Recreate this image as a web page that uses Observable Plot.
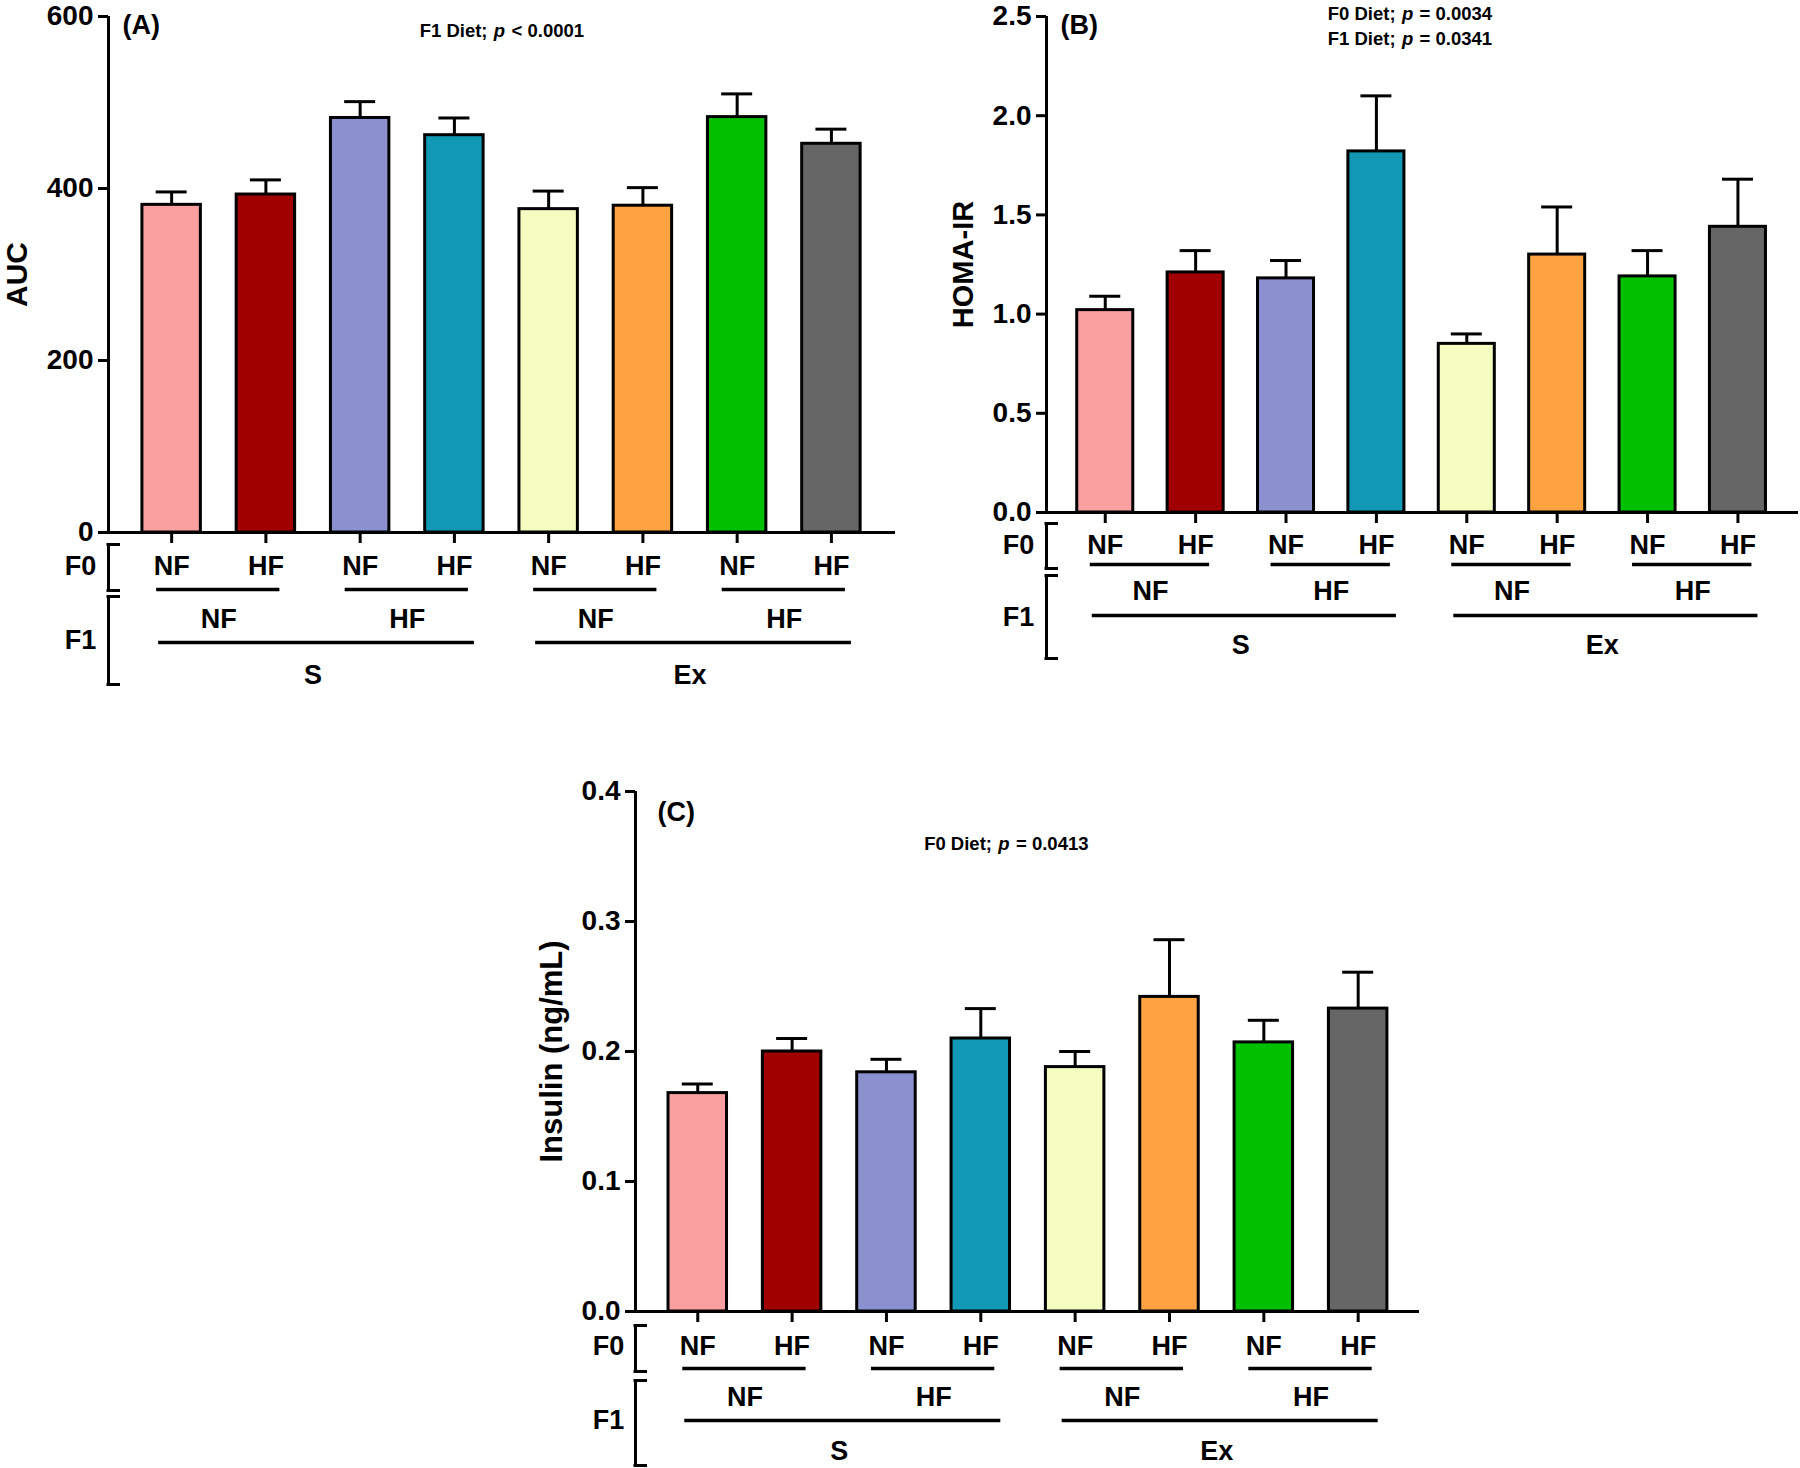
<!DOCTYPE html>
<html>
<head>
<meta charset="utf-8">
<script src="https://cdn.jsdelivr.net/npm/d3@7"></script>
<script src="https://cdn.jsdelivr.net/npm/@observablehq/plot@0.6"></script>
<style>
  html, body { margin: 0; padding: 0; background: #ffffff; }
  #fig { position: relative; width: 1800px; height: 1468px; background: #ffffff; overflow: hidden; }
  #fig > svg { position: absolute; background: transparent; }
  g[aria-label="annotation"] text { letter-spacing: 1.1px; }
</style>
</head>
<body>
<div id="fig"></div>
<script>
// ---------- data ----------
const f0Diet   = ["NF", "HF", "NF", "HF", "NF", "HF", "NF", "HF"];
const f1Diet   = ["NF", "NF", "HF", "HF", "NF", "NF", "HF", "HF"];
const activity = ["S", "S", "S", "S", "Ex", "Ex", "Ex", "Ex"];
const barColors = ["#fba0a0", "#a00000", "#8b91cf", "#1198b4", "#f4fcc0", "#fea242", "#00c000", "#666666"];

const aucMean = [381, 393, 482, 462, 376, 380, 483, 452];
const aucSem  = [15, 17, 19, 20, 21, 21, 27, 17];
const aucTicks = [0, 200, 400, 600];

const homaMean = [1.02, 1.21, 1.18, 1.82, 0.85, 1.30, 1.19, 1.44];
const homaSem  = [0.07, 0.11, 0.09, 0.28, 0.05, 0.24, 0.13, 0.24];
const homaTicks = [0, 0.5, 1.0, 1.5, 2.0, 2.5];

const insulinMean = [0.168, 0.200, 0.184, 0.210, 0.188, 0.242, 0.207, 0.233];
const insulinSem  = [0.007, 0.010, 0.010, 0.023, 0.012, 0.044, 0.017, 0.028];
const insulinTicks = [0, 0.1, 0.2, 0.3, 0.4];

const annotA = [{pre: "F1 Diet;", post: "< 0.0001"}];
const annotB = [{pre: "F0 Diet;", post: "= 0.0034"}, {pre: "F1 Diet;", post: "= 0.0341"}];
const annotC = [{pre: "F0 Diet;", post: "= 0.0413"}];

// ---------- derived groupings ----------
const groups = d3.range(f0Diet.length);
function runs(keyFn, labelFn) {
  const out = [];
  groups.forEach(i => {
    const k = keyFn(i);
    const last = out[out.length - 1];
    if (last && last.key === k) last.to = i;
    else out.push({key: k, label: labelFn(i), from: i, to: i});
  });
  return out;
}
const f1Runs = runs(i => activity[i] + "|" + f1Diet[i], i => f1Diet[i]);
const actRuns = runs(i => activity[i], i => activity[i]);

// ---------- styles ----------
const FONT = "'Liberation Sans', Arial, Helvetica, sans-serif";
const BAR_HALF = 0.31;
const CAP = 15.5;
const SW = 3;

function drawPanel(p) {
  const L = p.layout;
  const rows = groups.map(i => ({i, f0: f0Diet[i], mean: p.mean[i], top: p.mean[i] + p.sem[i], color: barColors[i]}));
  const x0 = L.xDomain[0];
  const zero = () => 0;
  const atLeft = () => x0;
  const mid = (groups.length - 1) / 2;
  const marks = [];

  // bars
  marks.push(Plot.rect(rows, {x1: d => d.i - BAR_HALF, x2: d => d.i + BAR_HALF, y1: zero, y2: "mean",
    fill: "color", stroke: "black", strokeWidth: SW}));
  // error bars (upper only)
  marks.push(Plot.ruleX(rows, {x: "i", y1: "mean", y2: "top", strokeWidth: SW}));
  marks.push(Plot.ruleY(rows, {y: "top", x1: "i", x2: "i", insetLeft: -CAP, insetRight: -CAP, strokeWidth: SW}));
  // axis lines
  marks.push(Plot.ruleX([x0], {strokeWidth: SW}));
  marks.push(Plot.ruleY([0], {strokeWidth: SW}));
  marks.push(Plot.axisY({ticks: p.ticks, tickFormat: p.tickFormat, tickSize: 10, tickPadding: 5,
    fontSize: 28, fontWeight: "bold", strokeWidth: SW, label: null}));
  // x ticks (downward)
  marks.push(Plot.ruleX(rows, {x: "i", y1: zero, y2: zero, insetTop: 0, insetBottom: -11, strokeWidth: SW}));

  // y-axis title
  marks.push(Plot.text([p.yLabel], {frameAnchor: "left", rotate: -90, dx: L.yLabelDx, text: d => d,
    fontSize: L.yLabelSize, fontWeight: "bold", textAnchor: "middle", lineAnchor: "middle"}));
  // panel letter
  marks.push(Plot.text([p.letter], {frameAnchor: "top-left", dx: L.letterDx, dy: L.letterDy, text: d => d,
    fontSize: 27, fontWeight: "bold", textAnchor: "start", lineAnchor: "middle"}));
  // statistics annotation
  p.annot.forEach((a, k) => {
    const dy = L.annotDy + k * 25;
    const common = {x: () => mid, frameAnchor: "top", dy, fontSize: 18.5, fontWeight: "bold", lineAnchor: "middle", ariaLabel: "annotation"};
    marks.push(Plot.text([a], {...common, text: "pre", textAnchor: "end", dx: L.annotDx - 12}));
    marks.push(Plot.text([a], {...common, text: () => "p", textAnchor: "middle", fontStyle: "italic", dx: L.annotDx}));
    marks.push(Plot.text([a], {...common, text: "post", textAnchor: "start", dx: L.annotDx + 12}));
  });

  const R = L.rows;
  // F0 row labels
  marks.push(Plot.text(rows, {x: "i", y: zero, dy: R.f0Label, text: "f0", fontSize: 27, fontWeight: "bold", lineAnchor: "middle"}));
  // F0 underlines (per F1 group)
  marks.push(Plot.ruleY(f1Runs, {y: zero, x1: "from", x2: "to", dy: R.f0Line, insetLeft: -15, insetRight: -14, strokeWidth: 3.5}));
  // F1 labels
  marks.push(Plot.text(f1Runs, {x: d => (d.from + d.to) / 2, y: zero, dy: R.f1Label, text: "label", fontSize: 27, fontWeight: "bold", lineAnchor: "middle"}));
  // F1 lines (per activity group)
  marks.push(Plot.ruleY(actRuns, {y: zero, x1: "from", x2: "to", dy: R.f1Line, insetLeft: -13, insetRight: -20, strokeWidth: 3.5}));
  // activity labels
  marks.push(Plot.text(actRuns, {x: d => (d.from + d.to) / 2, y: zero, dy: R.actLabel, text: "label", fontSize: 27, fontWeight: "bold", lineAnchor: "middle"}));

  // brackets with row titles
  [["F0", R.f0Bracket, R.f0Title], ["F1", R.f1Bracket, R.f1Title]].forEach(([name, br, titleDy]) => {
    marks.push(Plot.ruleX([name], {x: atLeft, y1: zero, y2: zero, insetTop: br[0], insetBottom: -br[1], strokeWidth: SW}));
    br.forEach(off => {
      marks.push(Plot.ruleY([name], {y: zero, x1: atLeft, x2: atLeft, insetLeft: -1.5, insetRight: -12, dy: off, strokeWidth: SW}));
    });
    marks.push(Plot.text([name], {x: atLeft, y: zero, dx: L.rowTitleDx, dy: titleDy, text: d => d,
      fontSize: 27, fontWeight: "bold", textAnchor: "middle", lineAnchor: "middle"}));
  });

  const svg = Plot.plot({
    width: L.width, height: L.height,
    marginLeft: L.marginLeft, marginRight: L.marginRight, marginTop: L.marginTop, marginBottom: L.marginBottom,
    x: {domain: L.xDomain, axis: null},
    y: {domain: [p.ticks[0], p.ticks[p.ticks.length - 1]], axis: null},
    color: {type: "identity"},
    style: {fontFamily: FONT, fontWeight: "bold", fontSize: "27px", color: "black", background: "transparent", overflow: "visible"},
    marks
  });
  svg.style.left = L.left + "px";
  svg.style.top = L.top + "px";
  document.getElementById("fig").appendChild(svg);
}

drawPanel({
  letter: "(A)", yLabel: "AUC", mean: aucMean, sem: aucSem, ticks: aucTicks, tickFormat: d3.format("d"), annot: annotA,
  layout: {left: 0, top: 0, width: 900, height: 700, marginLeft: 108, marginRight: 5, marginTop: 16, marginBottom: 168,
    xDomain: [-0.67, 7.68], yLabelDx: -91, yLabelSize: 30, letterDx: 14, letterDy: 9, annotDx: -2, annotDy: 15, rowTitleDx: -28,
    rows: {f0Label: 34, f0Line: 57, f1Label: 87, f1Line: 110, actLabel: 143, f0Bracket: [12, 58], f1Bracket: [64, 152], f0Title: 34, f1Title: 108}}
});
drawPanel({
  letter: "(B)", yLabel: "HOMA-IR", mean: homaMean, sem: homaSem, ticks: homaTicks, tickFormat: d3.format(".1f"), annot: annotB,
  layout: {left: 900, top: 0, width: 900, height: 700, marginLeft: 146, marginRight: 2, marginTop: 16, marginBottom: 188,
    xDomain: [-0.65, 7.67], yLabelDx: -83, yLabelSize: 29, letterDx: 14, letterDy: 9, annotDx: -14, annotDy: -2, rowTitleDx: -28,
    rows: {f0Label: 33, f0Line: 52, f1Label: 79, f1Line: 103, actLabel: 133, f0Bracket: [11, 56], f1Bracket: [63, 146], f0Title: 33, f1Title: 105}}
});
drawPanel({
  letter: "(C)", yLabel: "Insulin (ng/mL)", mean: insulinMean, sem: insulinSem, ticks: insulinTicks, tickFormat: d3.format(".1f"), annot: annotC,
  layout: {left: 500, top: 760, width: 940, height: 708, marginLeft: 135, marginRight: 21, marginTop: 31, marginBottom: 157,
    xDomain: [-0.66, 7.65], yLabelDx: -83, yLabelSize: 31, letterDx: 22, letterDy: 21, annotDx: -24, annotDy: 53, rowTitleDx: -27,
    rows: {f0Label: 35, f0Line: 57, f1Label: 86, f1Line: 109, actLabel: 140, f0Bracket: [14, 60], f1Bracket: [69, 154], f0Title: 35, f1Title: 109}}
});
</script>
</body>
</html>
